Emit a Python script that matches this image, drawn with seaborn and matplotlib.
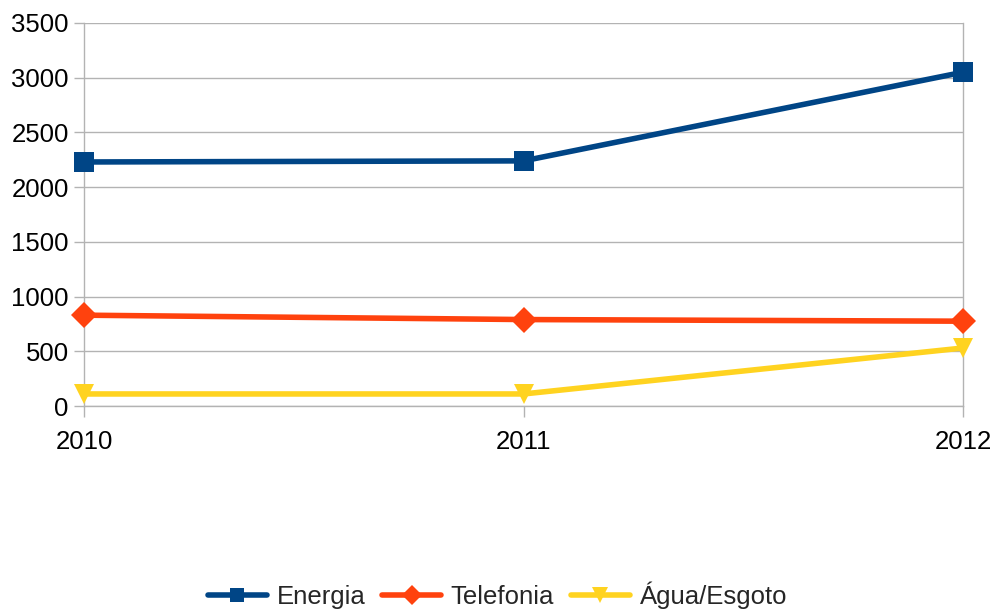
import matplotlib
matplotlib.use("Agg")
import matplotlib.pyplot as plt
import seaborn as sns
import pandas as pd

years = [2010, 2011, 2012]
energia = [2230, 2240, 3050]
telefonia = [830, 790, 775]
agua = [110, 110, 530]
series_names = ["Energia", "Telefonia", "Água/Esgoto"]
colors = ["#004586", "#ff420e", "#ffd320"]
markers = ["s", "D", "v"]
y_ticks = [0, 500, 1000, 1500, 2000, 2500, 3000, 3500]

rows = []
for name, vals in zip(series_names, [energia, telefonia, agua]):
    for y, v in zip(years, vals):
        rows.append({"Ano": y, "Valor": v, "Serie": name})
df = pd.DataFrame(rows)

sns.set_theme(style="white")
plt.rcParams['font.family'] = ['Liberation Sans', 'DejaVu Sans']

fig = plt.figure(figsize=(9.95, 6.09), dpi=100)
ax = fig.add_axes([84/995, 1-406/609, (963-84)/995, (406-23)/609])

msizes = {"Energia": 14, "Telefonia": 13, "Água/Esgoto": 15}
for name, c, m in zip(series_names, colors, markers):
    sub = df[df["Serie"] == name]
    sns.lineplot(data=sub, x="Ano", y="Valor", ax=ax, color=c, marker=m,
                 markersize=msizes[name], markeredgewidth=0, linewidth=4,
                 label=name, clip_on=False, zorder=3)

ax.set_xlim(2010, 2012)
ax.set_ylim(0, 3500)
ax.set_xticks(years)
ax.set_xticklabels([str(y) for y in years])
ax.set_yticks(y_ticks)
ax.set_xlabel("")
ax.set_ylabel("")
ax.grid(axis="y", color="#b3b3b3", linewidth=1)
ax.grid(axis="x", visible=False)
for s in ["left", "right", "bottom"]:
    ax.spines[s].set_visible(True)
    ax.spines[s].set_color("#b3b3b3")
    ax.spines[s].set_linewidth(1)
ax.spines["top"].set_visible(False)
ax.tick_params(axis="x", which="both", bottom=True, length=8, width=1,
               color="#b3b3b3", labelsize=18.5, pad=9, labelcolor="black")
ax.tick_params(axis="y", which="both", left=True, length=7, width=1,
               color="#b3b3b3", labelsize=18.5, pad=4, labelcolor="black")

ax.get_legend().remove()
handles, labels = ax.get_legend_handles_labels()
fig.legend(handles, labels, loc="center", bbox_to_anchor=(0.5, 1-595/609),
           ncol=3, frameon=False, fontsize=18.5, handlelength=2.3,
           handletextpad=0.38, columnspacing=0.65, markerscale=0.75,
           borderaxespad=0, borderpad=0)

fig.savefig("out.png", dpi=100)
